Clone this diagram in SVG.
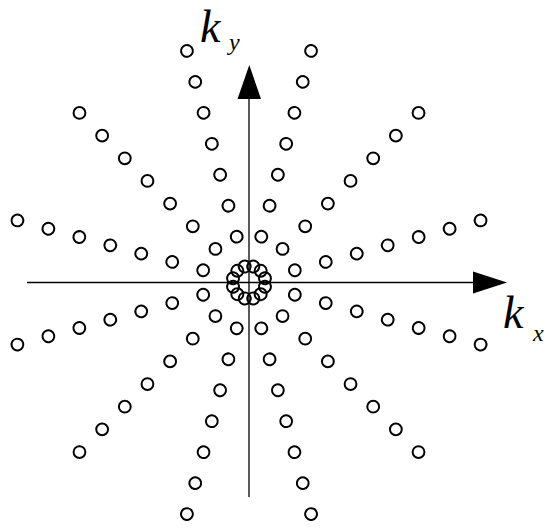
<svg xmlns="http://www.w3.org/2000/svg" xmlns:xlink="http://www.w3.org/1999/xlink" width="549" height="528" viewBox="0 0 549 528">
<style>
.pt{fill:none;stroke:#000;stroke-width:2}
.ax{stroke:#000;stroke-width:1.3;fill:none}
.hd{fill:#000;stroke:none}
.lbl{font-family:"Liberation Serif","Times New Roman",serif;font-style:italic;fill:#000}
</style>
<defs>
<g id="spoke">
<circle class="pt" cx="16.5" cy="0" r="6"/>
<circle class="pt" cx="47.45" cy="0" r="5.9"/>
<circle class="pt" cx="79.5" cy="0" r="5.9"/>
<circle class="pt" cx="111.55" cy="0" r="5.9"/>
<circle class="pt" cx="143.6" cy="0" r="5.9"/>
<circle class="pt" cx="175.65" cy="0" r="5.9"/>
<circle class="pt" cx="207.7" cy="0" r="5.9"/>
<circle class="pt" cx="239.75" cy="0" r="5.9"/>
</g>
</defs>
<rect width="549" height="528" fill="#fff"/>
<g id="axes">
<line class="ax" x1="27" y1="282.5" x2="474" y2="282.5"/>
<polygon class="hd" points="473,271.5 507,282.5 473,293.5"/>
<line class="ax" x1="249" y1="497" x2="249" y2="98"/>
<polygon class="hd" points="237.5,99 249.3,65 261,99"/>
</g>
<g id="samples" transform="translate(249,282.5)">
<g id="spoke15"><use xlink:href="#spoke" transform="rotate(-15)"/></g>
<g id="spoke45"><use xlink:href="#spoke" transform="rotate(-45)"/></g>
<g id="spoke75"><use xlink:href="#spoke" transform="rotate(-75)"/></g>
<g id="spoke105"><use xlink:href="#spoke" transform="rotate(-105)"/></g>
<g id="spoke135"><use xlink:href="#spoke" transform="rotate(-135)"/></g>
<g id="spoke165"><use xlink:href="#spoke" transform="rotate(-165)"/></g>
<g id="spoke195"><use xlink:href="#spoke" transform="rotate(-195)"/></g>
<g id="spoke225"><use xlink:href="#spoke" transform="rotate(-225)"/></g>
<g id="spoke255"><use xlink:href="#spoke" transform="rotate(-255)"/></g>
<g id="spoke285"><use xlink:href="#spoke" transform="rotate(-285)"/></g>
<g id="spoke315"><use xlink:href="#spoke" transform="rotate(-315)"/></g>
<g id="spoke345"><use xlink:href="#spoke" transform="rotate(-345)"/></g>
</g>
<g id="label-ky">
<text class="lbl" x="200" y="42" font-size="46">k</text>
<text class="lbl" x="229" y="50" font-size="24">y</text>
</g>
<g id="label-kx">
<text class="lbl" x="503" y="328" font-size="46">k</text>
<text class="lbl" x="533" y="341" font-size="24">x</text>
</g>
</svg>
